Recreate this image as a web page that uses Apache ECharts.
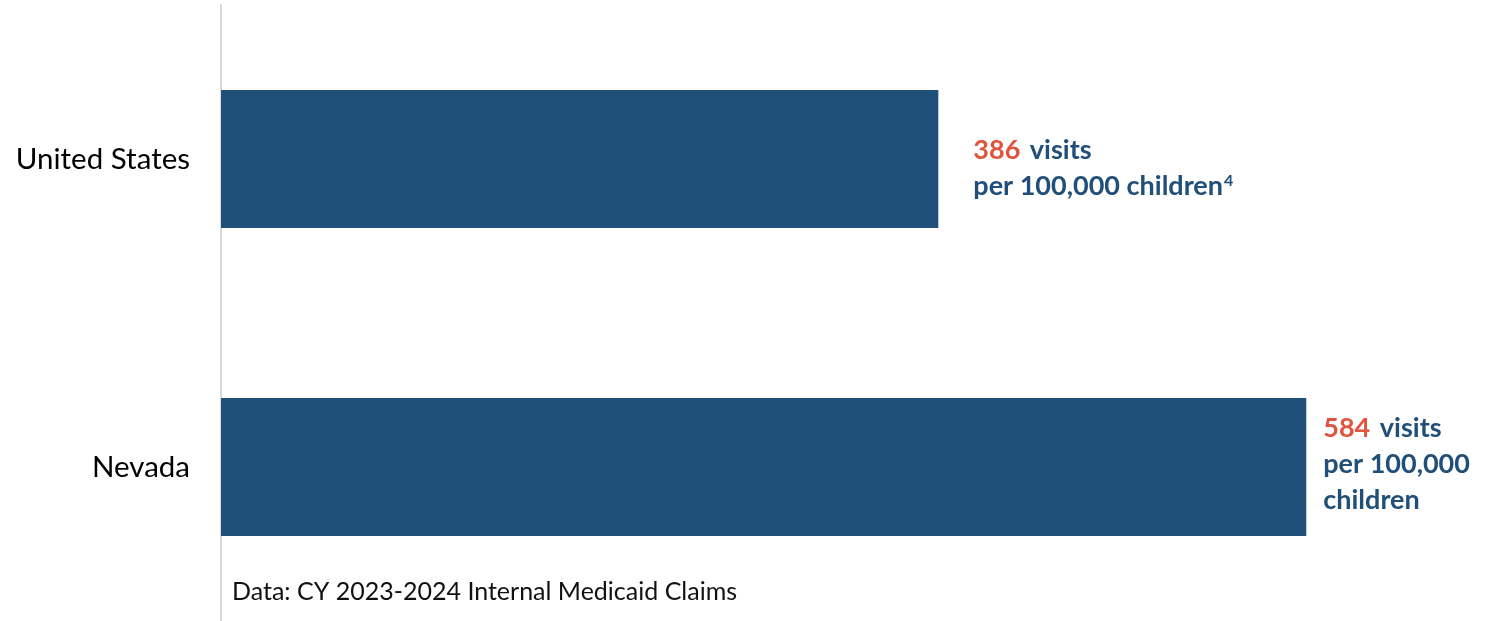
<!DOCTYPE html>
<html>
<head>
<meta charset="utf-8">
<title>Visits per 100,000 children</title>
<script src="https://cdn.jsdelivr.net/npm/echarts@6/dist/echarts.min.js"></script>
<style>
  html, body { margin: 0; padding: 0; background: #ffffff; }
  #chart { width: 1491px; height: 621px; }
</style>
</head>
<body>
<div id="chart"></div>
<script>
// Regions and their visit rates (visits per 100,000 children)
const regions = ['United States', 'Nevada'];
const visitRates = [386, 584];
// Second-line wording of each value label, plus footnote markers
const rateUnitLines = [['per 100,000 children'], ['per 100,000', 'children']];
const footnotes = ['4', ''];
const sourceNote = 'Data: CY 2023-2024 Internal Medicaid Claims';

const NAVY = '#204F79';
const RED = '#E0533D';
const FONT = 'Lato, "Noto Sans", sans-serif';

// [distance from bar end, vertical shift] for each value label
const labelOffsets = [[35, 9], [17, -3]];

const chart = echarts.init(document.getElementById('chart'), null, { renderer: 'canvas' });

chart.setOption({
  backgroundColor: '#ffffff',
  animation: false,
  grid: { left: 221, top: 5, width: 1115, height: 621, containLabel: false },
  xAxis: {
    type: 'value',
    min: 0,
    max: 600,
    show: false
  },
  yAxis: {
    type: 'category',
    data: regions,
    inverse: true,
    axisLine: { show: true, lineStyle: { color: '#d9d9d9', width: 2 } },
    axisTick: { show: false },
    axisLabel: { color: '#000000', fontSize: 29.5, fontFamily: FONT, margin: 31 },
    splitLine: { show: false }
  },
  series: [{
    type: 'bar',
    barWidth: 138,
    itemStyle: { color: NAVY },
    data: visitRates.map((v, i) => ({
      value: v,
      label: {
        show: true,
        position: 'right',
        distance: labelOffsets[i][0],
        offset: [0, labelOffsets[i][1]],
        formatter: () => {
          const lines = rateUnitLines[i].map(t => '{txt|' + t + '}');
          if (footnotes[i]) lines[lines.length - 1] += '{sup|' + footnotes[i] + '}';
          return '{num|' + visitRates[i] + '}{txt| visits}\n' + lines.join('\n');
        },
        rich: {
          num: { color: RED, fontSize: 27, fontWeight: 'bold', fontFamily: FONT, lineHeight: 36, padding: [0, 3, 0, 0] },
          txt: { color: NAVY, fontSize: 27, fontWeight: 'bold', fontFamily: FONT, lineHeight: 36 },
          sup: { color: NAVY, fontSize: 16, fontWeight: 'bold', fontFamily: FONT, verticalAlign: 'middle', padding: [0, 0, 10, 1] }
        }
      }
    }))
  }],
  graphic: [{
    type: 'text',
    left: 232,
    top: 579,
    style: { text: sourceNote, fill: '#111111', font: '25px ' + FONT }
  }]
});
</script>
</body>
</html>
